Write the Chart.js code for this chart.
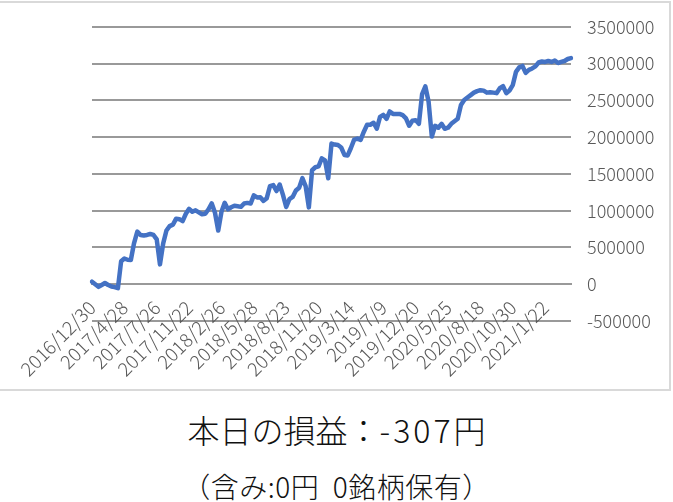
<!DOCTYPE html>
<html>
<head>
<meta charset="utf-8">
<script src="https://cdn.jsdelivr.net/npm/chart.js@4"></script>
<style>
body{margin:0;background:#fff;width:673px;height:502px;overflow:hidden;position:relative;font-family:"Noto Sans CJK JP","Noto Sans",sans-serif;}
#box{position:absolute;left:-3px;top:1px;width:670px;height:386px;border:2px solid #d9d9d9;}
#wrap{position:absolute;left:0;top:0;width:673px;height:390px;}
.t1{position:absolute;left:0;width:673px;text-align:center;top:407px;font-size:32px;font-weight:300;color:#111;line-height:44px;}
.t1 span{letter-spacing:3px;}
.t2{position:absolute;left:0;width:673px;text-align:center;top:467px;font-size:28px;font-weight:300;color:#111;line-height:38px;letter-spacing:0.5px;}
</style>
</head>
<body>
<div id="box"></div>
<div id="wrap"><canvas id="chart" width="673" height="390"></canvas></div>
<div class="t1">本日の損益：<span>-307</span>円</div>
<div class="t2">（含み:0円&nbsp;&nbsp;0銘柄保有）</div>
<script>
// tick labels shown on the x axis (one every 10 points)
let tick_dates=['2016/12/30','2017/4/28','2017/7/26','2017/11/22','2018/2/26','2018/5/28','2018/8/23','2018/11/20','2019/3/14','2019/7/9','2019/12/20','2020/5/25','2020/8/18','2020/10/30','2021/1/22'];

// cumulative profit
let profit=[35000,0,-36000,-10000,17000,-10000,-30000,-40000,-54000,313000,
350000,333000,330000,560000,716000,670000,663000,670000,683000,670000,
609000,270000,555000,730000,790000,810000,891000,884000,857000,958000,
1025000,985000,1005000,978000,951000,958000,1019000,1099000,972000,730000,
985000,1106000,1019000,1046000,1066000,1059000,1052000,1097000,1106000,1097000,
1207000,1180000,1183000,1133000,1170000,1335000,1348000,1267000,1355000,1214000,
1050000,1156000,1187000,1274000,1312000,1442000,1335000,1045000,1550000,1590000,
1603000,1711000,1684000,1440000,1913000,1899000,1892000,1859000,1758000,1751000,
1852000,1966000,1980000,1962000,2074000,2168000,2168000,2195000,2114000,2275000,
2302000,2249000,2349000,2316000,2316000,2316000,2298000,2255000,2155000,2222000,
2231000,2181000,2585000,2690000,2480000,2007000,2154000,2128000,2181000,2114000,
2128000,2181000,2215000,2249000,2437000,2504000,2538000,2571000,2605000,2625000,
2638000,2632000,2605000,2611000,2605000,2598000,2665000,2692000,2598000,2634000,
2706000,2887000,2948000,2968000,2874000,2914000,2934000,2961000,3015000,3028000,
3022000,3035000,3022000,3042000,3008000,3022000,3035000,3062000,3075000];

let y_min=-500000, y_max=3500000, y_step=500000;

// categories: every 10th point carries a date
let labels=[];
for(let i=0;i<profit.length;i++){
    labels.push(i%10==0 && tick_dates[i/10] ? tick_dates[i/10] : '');
}

let ctx=document.querySelector('#chart').getContext('2d');
let yFont={family:'"Noto Sans CJK JP","Noto Sans",sans-serif',size:18,weight:300};
let xFont={family:'"Noto Sans CJK JP","Noto Sans",sans-serif',size:19,weight:300};
let gridColor='#999999';

new Chart(ctx,{
    type:'line',
    data:{
        labels:labels,
        datasets:[{
            data:profit,
            borderColor:'#4472c4',
            borderWidth:4.5,
            pointRadius:0,
            tension:0,
            borderCapStyle:'round',
            borderJoinStyle:'round',
            fill:false
        }]
    },
    options:{
        responsive:false,
        animation:false,
        layout:{padding:{left:92,right:0,top:23,bottom:69}},
        plugins:{legend:{display:false},tooltip:{enabled:false}},
        scales:{
            x:{
                position:{y:0},
                grid:{display:false,drawTicks:false},
                // axis line sits on the 0 value, drawn like a gridline
                border:{display:true,color:gridColor,width:2},
                ticks:{autoSkip:false,maxRotation:45,minRotation:45,color:'#595959',font:xFont,padding:12},
                afterFit:(s)=>{s.height=0;s.paddingLeft=0;s.paddingRight=0;}
            },
            y:{
                position:'right',
                min:y_min,
                max:y_max,
                grid:{display:true,drawOnChartArea:true,color:gridColor,lineWidth:2,drawTicks:false},
                border:{display:false},
                ticks:{stepSize:y_step,color:'#595959',font:yFont,padding:16,callback:(v)=>String(v)},
                afterFit:(s)=>{s.width=102;}
            }
        }
    }
});
</script>
</body>
</html>
